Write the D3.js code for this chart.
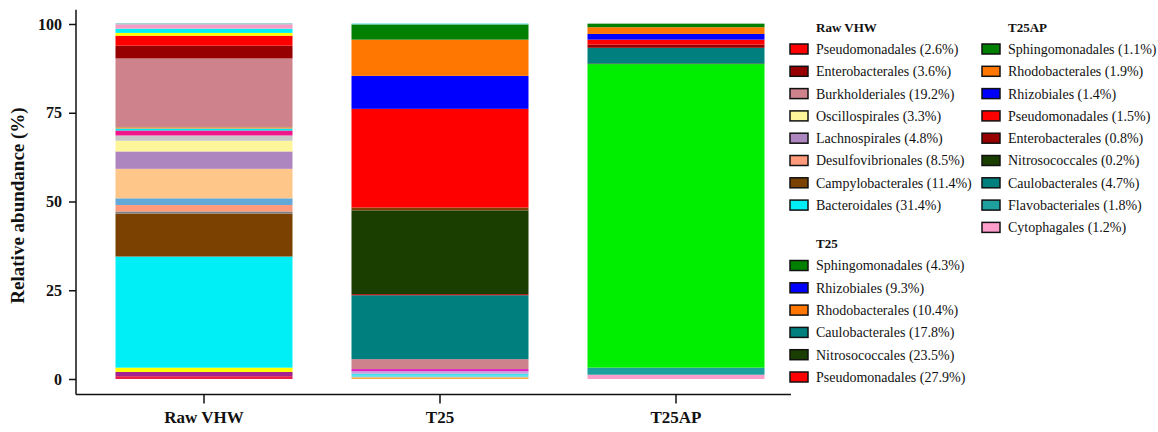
<!DOCTYPE html>
<html>
<head>
<meta charset="utf-8">
<script src="https://cdn.jsdelivr.net/npm/d3@7"></script>
<style>
  body { margin: 0; background: #fff; }
  text { font-family: "Liberation Serif", "Times New Roman", serif; fill: #111; }
</style>
</head>
<body>
<div class="chart"></div>
<script>
// ---- data (segments listed bottom -> top) ----
const samples = ["Raw VHW", "T25", "T25AP"];

const rawTaxa = ["minor 1", "minor 2", "minor 3", "Bacteroidales", "Campylobacterales", "minor 4",
  "minor 5", "minor 6", "Desulfovibrionales", "Lachnospirales", "Oscillospirales", "minor 7",
  "minor 8", "minor 9", "minor 10", "Burkholderiales", "Enterobacterales", "Pseudomonadales",
  "minor 11", "minor 12", "minor 13", "minor 14"];
const rawValues = [0.8, 1.2, 1.2, 31.3, 12.1, 0.6, 1.8, 1.9, 8.3, 4.9, 3.0, 1.5,
  1.4, 0.5, 0.5, 19.3, 3.6, 2.8, 0.8, 1.2, 1.2, 0.3];
const rawColors = ["#e8204a", "#a3208e", "#ffff00", "#00eef5", "#7a4100", "#7f7f7f",
  "#ff9a7a", "#62a8d8", "#fec688", "#ad86c0", "#fff59a", "#c8c8c8",
  "#f0168c", "#00e5ee", "#d8a060", "#cd828c", "#960000", "#ff0000",
  "#ffff00", "#00eef5", "#f79ac4", "#7fc4c4"];

const t25Taxa = ["minor 1", "minor 2", "minor 3", "minor 4", "minor 5", "Burkholderiales",
  "Caulobacterales", "minor 6", "Nitrosococcales", "minor 7", "Pseudomonadales",
  "Rhizobiales", "Rhodobacterales", "Sphingomonadales", "minor 8"];
const t25Values = [0.5, 0.4, 0.6, 0.7, 0.6, 2.8, 18.0, 0.3, 23.6, 0.8, 27.8, 9.3, 10.2, 4.3, 0.3];
const t25Colors = ["#f5b041", "#7fd6f0", "#40e0e8", "#c8a0e0", "#e020c0", "#cd828c",
  "#007f7f", "#c00000", "#1a3d00", "#7a4100", "#ff0000",
  "#0000ff", "#ff7700", "#007f00", "#7fe8f0"];

const t25apTaxa = ["Cytophagales", "Flavobacteriales", "minor 1", "Nitrosococcales",
  "Caulobacterales", "Enterobacterales", "Pseudomonadales", "Rhizobiales",
  "Rhodobacterales", "Sphingomonadales"];
const t25apValues = [1.2, 2.0, 85.5, 0.2, 4.4, 0.9, 1.4, 1.6, 1.9, 1.0];
const t25apColors = ["#ff9ecb", "#1fa0a0", "#00ee00", "#1a3d00", "#007f7f",
  "#960000", "#ff0000", "#0000ff", "#ff7700", "#007f00"];

// legend entries
const rawLegend = ["Pseudomonadales (2.6%)", "Enterobacterales (3.6%)", "Burkholderiales (19.2%)",
  "Oscillospirales (3.3%)", "Lachnospirales (4.8%)", "Desulfovibrionales (8.5%)",
  "Campylobacterales (11.4%)", "Bacteroidales (31.4%)"];
const rawLegendColors = ["#ff0000", "#960000", "#cd828c", "#fff59a", "#ad86c0", "#ff9a7a", "#7a4100", "#00eef5"];

const t25Legend = ["Sphingomonadales (4.3%)", "Rhizobiales (9.3%)", "Rhodobacterales (10.4%)",
  "Caulobacterales (17.8%)", "Nitrosococcales (23.5%)", "Pseudomonadales (27.9%)"];
const t25LegendColors = ["#007f00", "#0000ff", "#ff7700", "#007f7f", "#1a3d00", "#ff0000"];

const t25apLegend = ["Sphingomonadales (1.1%)", "Rhodobacterales (1.9%)", "Rhizobiales (1.4%)",
  "Pseudomonadales (1.5%)", "Enterobacterales (0.8%)", "Nitrosococcales (0.2%)",
  "Caulobacterales (4.7%)", "Flavobacteriales (1.8%)", "Cytophagales (1.2%)"];
const t25apLegendColors = ["#007f00", "#ff7700", "#0000ff", "#ff0000", "#960000", "#1a3d00",
  "#007f7f", "#1fa0a0", "#ff9ecb"];

const yTicks = [0, 25, 50, 75, 100];

// ---- build stacks ----
function stackOf(sample, taxa, values, colors) {
  const ends = d3.cumsum(values);
  return taxa.map((t, i) => ({
    sample: sample, taxon: t, color: colors[i],
    y0: i === 0 ? 0 : ends[i - 1], y1: ends[i]
  }));
}
const bars = [
  stackOf(samples[0], rawTaxa, rawValues, rawColors),
  stackOf(samples[1], t25Taxa, t25Values, t25Colors),
  stackOf(samples[2], t25apTaxa, t25apValues, t25apColors)
];

// ---- chart ----
const W = 1158, H = 432;
const axisX = 76, axisY = 394.5;

const svg = d3.select(".chart").append("svg")
  .attr("width", W)
  .attr("height", H);

const xScale = d3.scaleBand()
  .domain(samples)
  .range([86, 794])
  .paddingInner(0.25)
  .paddingOuter(0.125);

const yScale = d3.scaleLinear()
  .domain([0, 100])
  .range([379, 24]);

// bars
svg.append("g").attr("class", "bars")
  .selectAll("g")
  .data(bars)
  .join("g")
  .selectAll("rect")
  .data(d => d)
  .join("rect")
  .attr("x", d => xScale(d.sample))
  .attr("width", xScale.bandwidth())
  .attr("y", d => yScale(d.y1))
  .attr("height", d => yScale(d.y0) - yScale(d.y1))
  .attr("fill", d => d.color);

// y axis
const yAxis = d3.axisLeft(yScale)
  .tickValues(yTicks)
  .tickSize(7)
  .tickPadding(7);

const gy = svg.append("g")
  .attr("class", "axis y-axis")
  .attr("transform", `translate(${axisX},0)`)
  .call(yAxis);
gy.select(".domain").remove();
gy.selectAll(".tick line").attr("stroke", "#111").attr("stroke-width", 1.5);
gy.selectAll(".tick text")
  .attr("font-size", "16px")
  .attr("font-weight", "bold")
  .attr("font-family", "Liberation Serif, serif");

svg.append("line")
  .attr("x1", axisX).attr("x2", axisX)
  .attr("y1", yScale(104)).attr("y2", axisY)
  .attr("stroke", "#111").attr("stroke-width", 1.5);

// x axis
const xAxis = d3.axisBottom(xScale)
  .tickSize(9)
  .tickPadding(7);

const gx = svg.append("g")
  .attr("class", "axis x-axis")
  .attr("transform", `translate(0,${axisY})`)
  .call(xAxis);
gx.select(".domain").remove();
gx.selectAll(".tick line").attr("stroke", "#111").attr("stroke-width", 1.5);
gx.selectAll(".tick text")
  .attr("font-size", "17px")
  .attr("font-weight", "bold")
  .attr("font-family", "Liberation Serif, serif");

svg.append("line")
  .attr("x1", axisX).attr("x2", 791)
  .attr("y1", axisY).attr("y2", axisY)
  .attr("stroke", "#111").attr("stroke-width", 1.5);

// y axis title
svg.append("text")
  .attr("transform", `translate(24,${yScale(50) + 4}) rotate(-90)`)
  .attr("text-anchor", "middle")
  .attr("font-size", "19px")
  .attr("font-weight", "bold")
  .text("Relative abundance (%)");

// ---- legends ----
const rowStep = 22.3;
function legend(title, names, colors, x, titleY) {
  const g = svg.append("g").attr("class", "legend");
  g.append("text")
    .attr("x", x + 26)
    .attr("y", titleY)
    .attr("font-size", "13px")
    .attr("font-weight", "bold")
    .text(title);
  const rows = g.selectAll("g.row")
    .data(names)
    .join("g")
    .attr("class", "row")
    .attr("transform", (d, i) => `translate(${x},${titleY + 17.5 + i * rowStep})`);
  rows.append("rect")
    .attr("x", 0).attr("y", -5)
    .attr("width", 18).attr("height", 10)
    .attr("fill", (d, i) => colors[i])
    .attr("stroke", "#111")
    .attr("stroke-width", 1.5);
  rows.append("text")
    .attr("x", 26)
    .attr("dy", "0.35em")
    .attr("font-size", "14px")
    .text(d => d);
}

legend("Raw VHW", rawLegend, rawLegendColors, 790, 31.5);
legend("T25", t25Legend, t25LegendColors, 790, 248);
legend("T25AP", t25apLegend, t25apLegendColors, 982, 31.5);
</script>
</body>
</html>
